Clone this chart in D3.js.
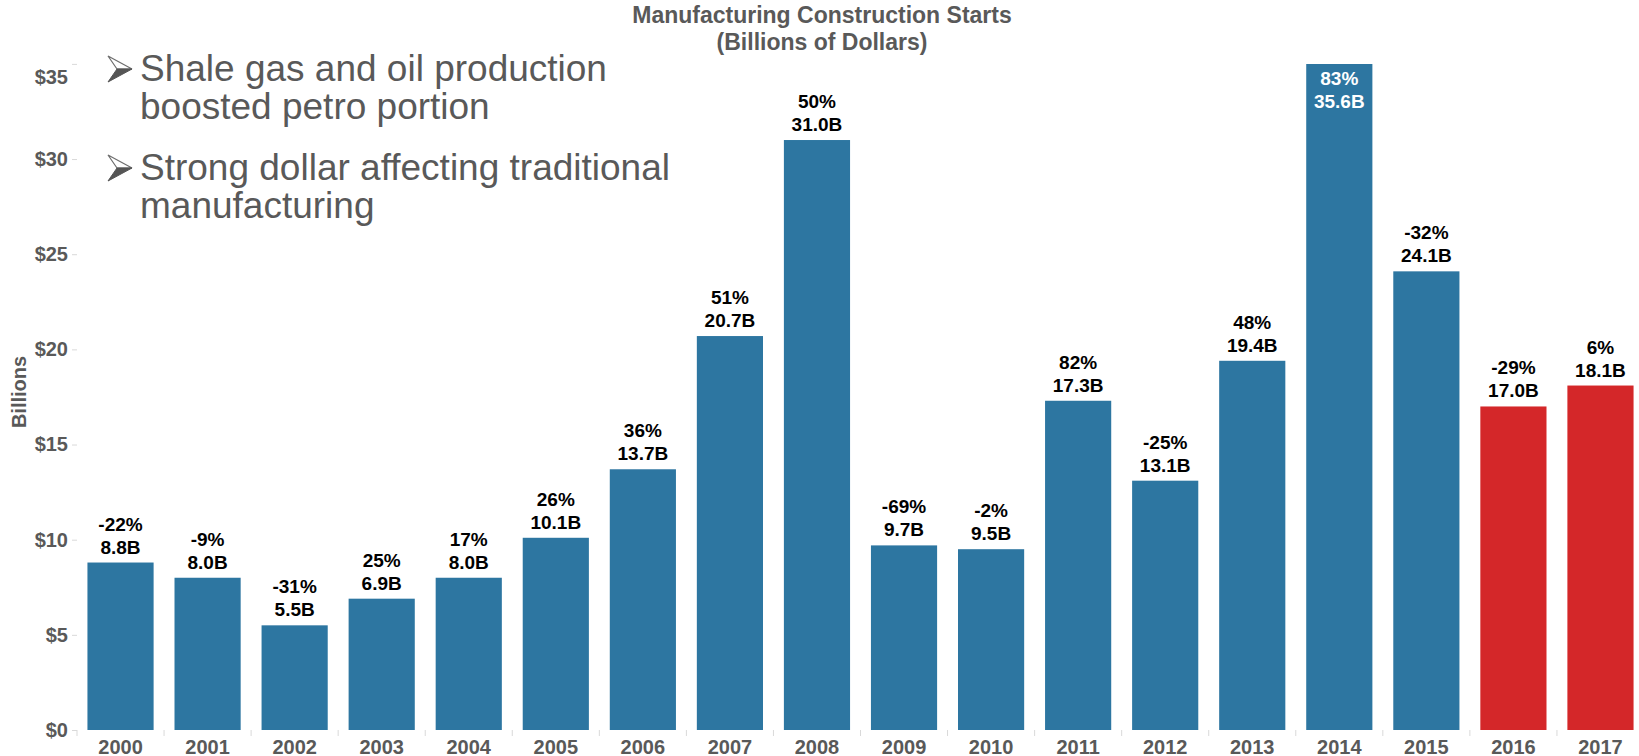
<!DOCTYPE html>
<html>
<head>
<meta charset="utf-8">
<script src="https://cdn.jsdelivr.net/npm/d3@7"></script>
<style>
  html, body { margin: 0; padding: 0; background: #ffffff; }
  svg { display: block; }
  text { font-family: "Liberation Sans", Arial, sans-serif; }
</style>
</head>
<body>
<svg id="chart" width="1639" height="756"></svg>
<script>
// Manufacturing construction starts, billions of dollars, by year
const years = ["2000", "2001", "2002", "2003", "2004", "2005", "2006", "2007", "2008",
               "2009", "2010", "2011", "2012", "2013", "2014", "2015", "2016", "2017"];
const startsBillions = [8.8, 8.0, 5.5, 6.9, 8.0, 10.1, 13.7, 20.7, 31.0,
                        9.7, 9.5, 17.3, 13.1, 19.4, 35.6, 24.1, 17.0, 18.1];
const yoyChangePct = [-22, -9, -31, 25, 17, 26, 36, 51, 50,
                      -69, -2, 82, -25, 48, 83, -32, -29, 6];
const forecastYears = ["2016", "2017"];
const yTicks = [0, 5, 10, 15, 20, 25, 30, 35];
const titleLines = ["Manufacturing Construction Starts", "(Billions of Dollars)"];
const bulletPoints = [
  ["Shale gas and oil production", "boosted petro portion"],
  ["Strong dollar affecting traditional", "manufacturing"]
];

const svg = d3.select("#chart");
const grayText = "#595959";
const blue = "#2d76a1";
const red = "#d42729";

const x = d3.scaleBand().domain(years).range([77, 1644]).paddingInner(0.24).paddingOuter(0.12);
const y = d3.scaleLinear().domain([0, 35]).range([730, 63.9]);
const yMax = y.domain()[1];

// Plot area clip: bars above the axis maximum are cut at the top edge
svg.append("defs").append("clipPath").attr("id", "plot-clip")
  .append("rect").attr("x", 0).attr("y", y(yMax)).attr("width", 1639).attr("height", y(0) - y(yMax));

// Bars
svg.append("g").attr("clip-path", "url(#plot-clip)").selectAll("rect")
  .data(years)
  .join("rect")
  .attr("x", d => x(d))
  .attr("width", x.bandwidth())
  .attr("y", (d, i) => y(startsBillions[i]))
  .attr("height", (d, i) => y(0) - y(startsBillions[i]))
  .attr("fill", d => forecastYears.includes(d) ? red : blue);

// Value labels: percentage change over the value
const labels = svg.append("g").attr("font-weight", "bold").attr("font-size", 19).attr("text-anchor", "middle");
years.forEach((d, i) => {
  const v = startsBillions[i];
  const cx = x(d) + x.bandwidth() / 2;
  const inside = v > yMax;
  const top = y(Math.min(v, yMax));
  const base2 = inside ? top + 44.5 : top - 9;
  const fill = inside ? "#ffffff" : "#000000";
  labels.append("text").attr("x", cx).attr("y", base2 - 23).attr("fill", fill)
    .text(`${yoyChangePct[i]}%`);
  labels.append("text").attr("x", cx).attr("y", base2).attr("fill", fill)
    .text(`${v.toFixed(1)}B`);
});

// Y axis
const yAxis = d3.axisLeft(y).tickValues(yTicks).tickFormat(d => `$${d}`).tickSize(5).tickPadding(4);
const gy = svg.append("g").attr("transform", "translate(77,0)").call(yAxis);
gy.select(".domain").remove();
gy.selectAll(".tick line").attr("stroke", "#d9d9d9");
gy.selectAll(".tick text").attr("fill", grayText).attr("font-size", 20).attr("font-weight", "bold")
  .attr("font-family", "'Liberation Sans', Arial, sans-serif")
  .attr("dy", d => d === yMax ? "1.0em" : "0.32em");

// X axis with separators between categories
const xAxis = d3.axisBottom(x).tickSize(0).tickPadding(0);
const gx = svg.append("g").attr("transform", "translate(0,730)").call(xAxis);
gx.select(".domain").remove();
gx.selectAll(".tick text").attr("fill", grayText).attr("font-size", 20).attr("font-weight", "bold")
  .attr("font-family", "'Liberation Sans', Arial, sans-serif")
  .attr("dy", null).attr("y", 23.5);
svg.append("g").selectAll("line")
  .data(years)
  .join("line")
  .attr("x1", d => x(d) - x.step() * x.paddingOuter())
  .attr("x2", d => x(d) - x.step() * x.paddingOuter())
  .attr("y1", 730).attr("y2", 736)
  .attr("stroke", "#d9d9d9");

// Axis title
svg.append("text")
  .attr("transform", "translate(26,392) rotate(-90)")
  .attr("text-anchor", "middle")
  .attr("fill", grayText).attr("font-size", 20).attr("font-weight", "bold")
  .text("Billions");

// Chart title
svg.append("g").attr("text-anchor", "middle").attr("fill", grayText)
  .attr("font-size", 23).attr("font-weight", "bold")
  .selectAll("text").data(titleLines).join("text")
  .attr("x", 822).attr("y", (d, i) => 23 + i * 27)
  .text(d => d);

// Bullet notes
const notes = svg.append("g").attr("fill", grayText).attr("font-size", 37);
const bulletBase = [81, 180];
bulletPoints.forEach((lines, b) => {
  const by = bulletBase[b];
  const arrow = notes.append("g").attr("transform", `translate(108,${by - 12})`);
  arrow.append("path").attr("d", "M0,-13 L24,0 L9,0 Z").attr("fill", "#ffffff").attr("stroke", "#6d6d6d").attr("stroke-width", 1.2);
  arrow.append("path").attr("d", "M9,0 L24,0 L0,13 Z").attr("fill", "#555555").attr("stroke", "#555555").attr("stroke-width", 1);
  lines.forEach((t, li) => {
    notes.append("text").attr("x", 140).attr("y", by + li * 38).text(t);
  });
});
</script>
</body>
</html>
